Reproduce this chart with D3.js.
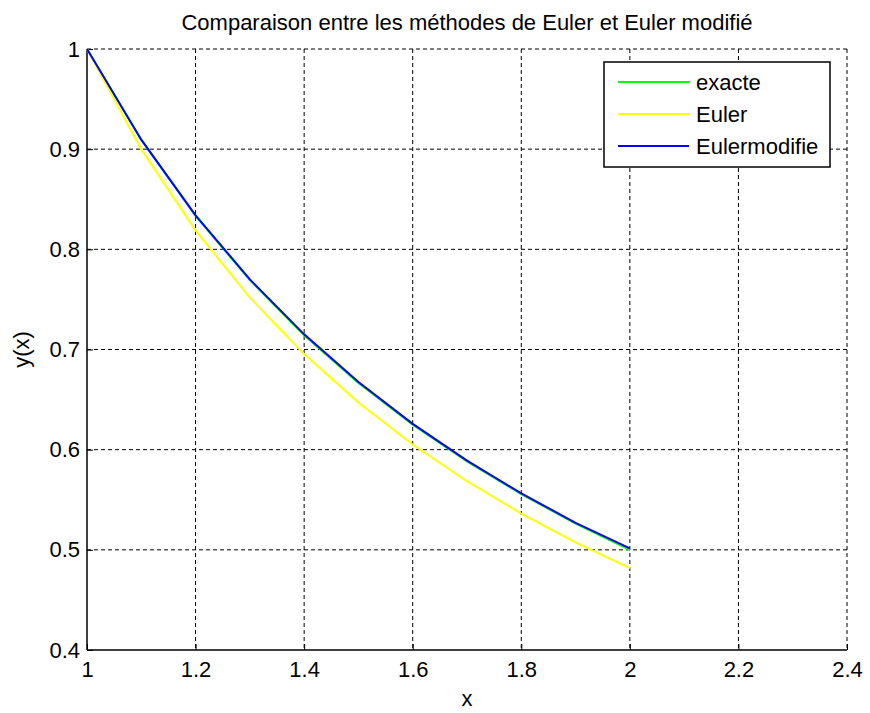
<!DOCTYPE html>
<html><head><meta charset="utf-8">
<script src="https://cdn.jsdelivr.net/npm/d3@7"></script>
<style>body{margin:0;background:#fff;} svg{display:block;font-family:"Liberation Sans",Arial,sans-serif;}</style>
</head><body>
<script>
const xs = [1, 1.1, 1.2, 1.3, 1.4, 1.5, 1.6, 1.7, 1.8, 1.9, 2];
const exacte = [1, 0.9091, 0.8333, 0.7692, 0.7143, 0.6667, 0.625, 0.5882, 0.5556, 0.5263, 0.5];
const euler = [1, 0.9, 0.819, 0.7519, 0.6954, 0.647, 0.6052, 0.5685, 0.5362, 0.5075, 0.4817];
const eulerModifie = [1, 0.9095, 0.834, 0.77, 0.7151, 0.6675, 0.6258, 0.589, 0.5563, 0.527, 0.5015];
const xTicks = [1, 1.2, 1.4, 1.6, 1.8, 2, 2.2, 2.4];
const yTicks = [0.4, 0.5, 0.6, 0.7, 0.8, 0.9, 1];
const seriesNames = ["exacte", "Euler", "Eulermodifie"];
const seriesColors = ["#00ff00", "#ffff00", "#0000ff"];

const W = 870, H = 713;
const L = 87, R = 847, T = 49, B = 650;
const FS = 22;
const svg = d3.select("body").append("svg").attr("width", W).attr("height", H);
const x = d3.scaleLinear().domain([1, 2.4]).range([L, R]);
const y = d3.scaleLinear().domain([0.4, 1]).range([B, T]);

// grid
const g = svg.append("g");
g.selectAll("line.vg").data(xTicks.slice(1)).enter().append("line")
  .attr("x1", d => x(d)).attr("x2", d => x(d)).attr("y1", T).attr("y2", B)
  .attr("stroke", "#000").attr("stroke-width", 1).attr("stroke-dasharray", "4,3");
g.selectAll("line.hg").data(yTicks.slice(1)).enter().append("line")
  .attr("y1", d => y(d)).attr("y2", d => y(d)).attr("x1", L).attr("x2", R)
  .attr("stroke", "#000").attr("stroke-width", 1).attr("stroke-dasharray", "4,3");

// axes
const xAxis = d3.axisBottom(x).tickValues(xTicks).tickSize(-6).tickPadding(11).tickFormat(d3.format("~g"));
const yAxis = d3.axisLeft(y).tickValues(yTicks).tickSize(-6).tickPadding(7).tickFormat(d3.format("~g"));
const gx = svg.append("g").attr("transform", `translate(0,${B})`).call(xAxis);
const gy = svg.append("g").attr("transform", `translate(${L},0)`).call(yAxis);
[gx, gy].forEach(a => {
  a.select(".domain").attr("stroke", "#000").attr("stroke-width", 1.5);
  a.selectAll(".tick line").attr("stroke", "#000");
  a.selectAll("text").attr("font-size", FS).attr("fill", "#000").attr("font-family", "Liberation Sans, Arial, sans-serif");
});
gx.select(".domain").attr("d", `M${L},0H${R}`);
gy.select(".domain").attr("d", `M0,${B}V${T}`);

// lines
const allSeries = [exacte, euler, eulerModifie];
const line = d3.line().x((d, i) => x(xs[i])).y(d => y(d));
svg.append("g").selectAll("path").data(allSeries).enter().append("path")
  .attr("d", d => line(d)).attr("fill", "none")
  .attr("stroke", (d, i) => seriesColors[i]).attr("stroke-width", 2);

// title & labels
svg.append("text").attr("x", (L + R) / 2).attr("y", 30).attr("text-anchor", "middle")
  .attr("font-size", FS).text("Comparaison entre les méthodes de Euler et Euler modifié");
svg.append("text").attr("x", (L + R) / 2).attr("y", 706).attr("text-anchor", "middle")
  .attr("font-size", FS).text("x");
svg.append("text").attr("transform", `translate(29,${(T + B) / 2}) rotate(-90)`).attr("text-anchor", "middle")
  .attr("font-size", FS).text("y(x)");

// legend
const lg = svg.append("g");
lg.append("rect").attr("x", 604).attr("y", 62).attr("width", 226).attr("height", 105)
  .attr("fill", "#fff").attr("stroke", "#000").attr("stroke-width", 1.5);
seriesNames.forEach((n, i) => {
  const yy = 82 + i * 32;
  lg.append("line").attr("x1", 618).attr("x2", 689).attr("y1", yy).attr("y2", yy)
    .attr("stroke", seriesColors[i]).attr("stroke-width", 2);
  lg.append("text").attr("x", 696).attr("y", yy + 8).attr("font-size", FS).text(n);
});
</script>
</body></html>
